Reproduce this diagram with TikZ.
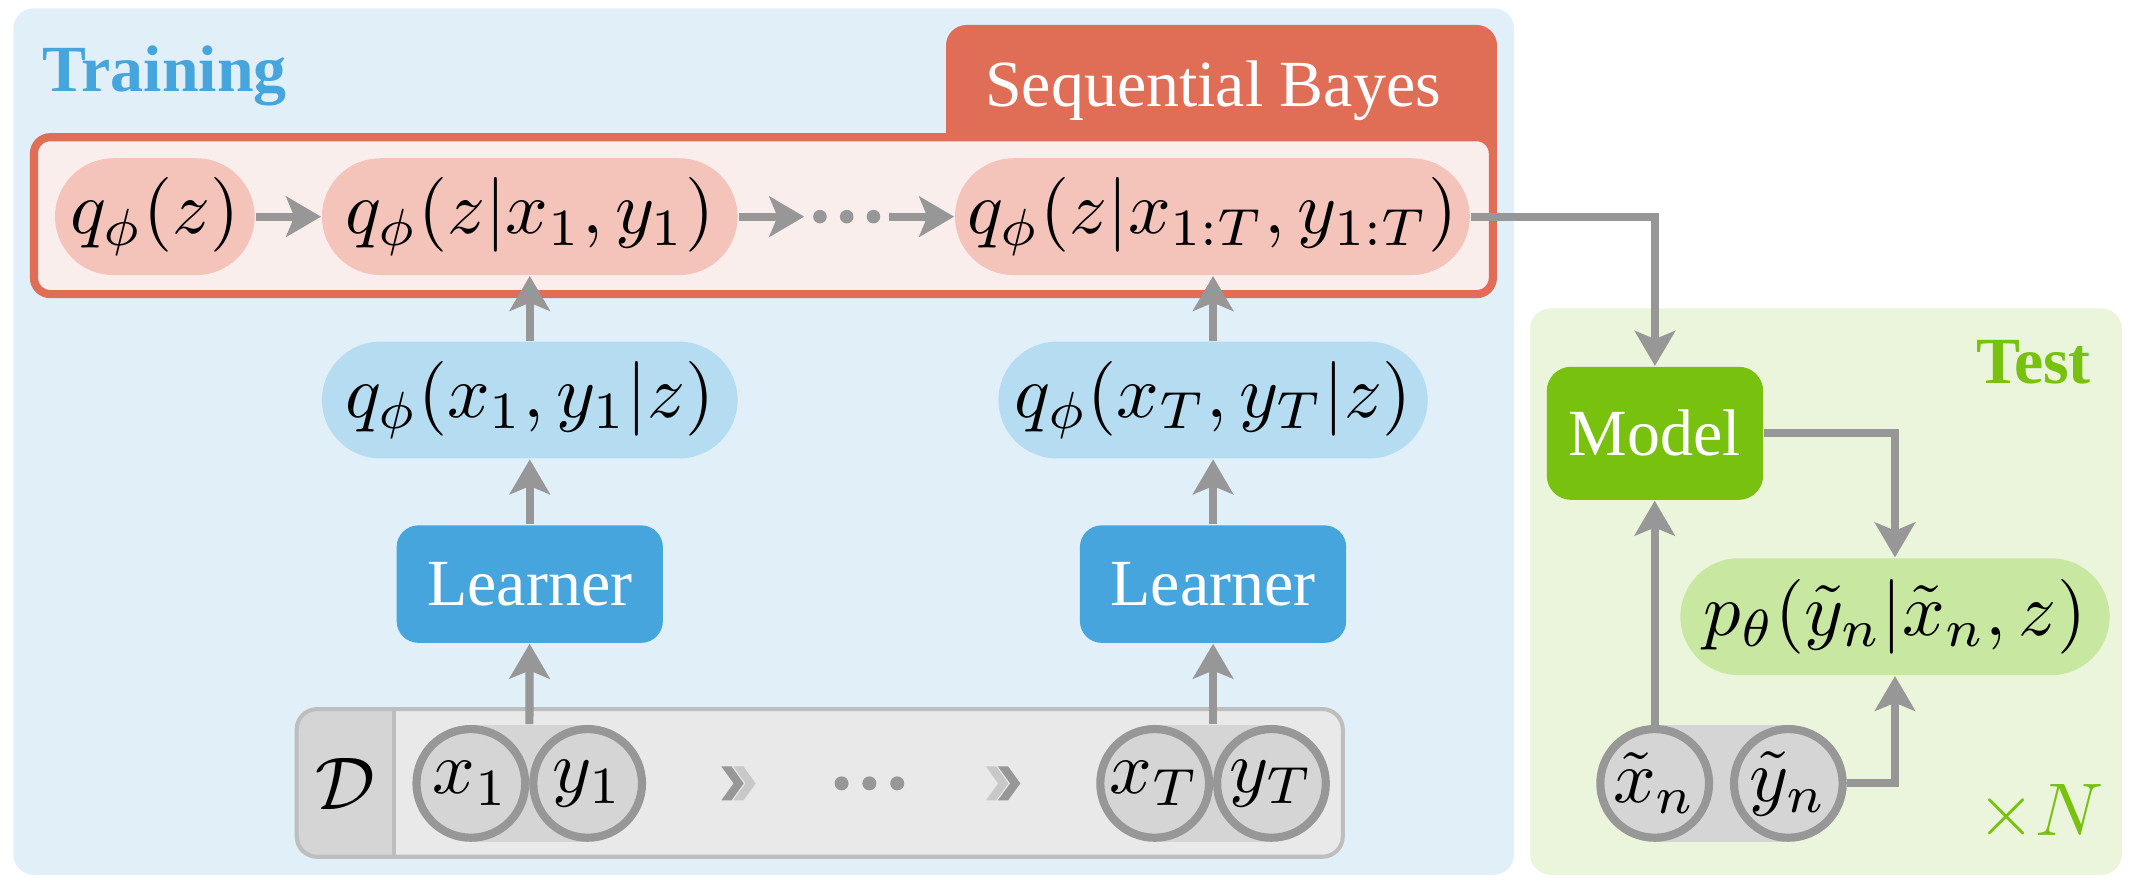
\RequirePackage{fix-cm}
\documentclass[tikz,border=0pt]{standalone}
\usepackage{graphicx}
\usepackage{fontspec}
\setmainfont{Liberation Serif}
\usetikzlibrary{arrows.meta}
\definecolor{trainbg}{HTML}{E1EFF9}
\definecolor{testbg}{HTML}{EBF5DC}
\definecolor{frfill}{HTML}{FAEEEC}
\definecolor{orng}{HTML}{E06D56}
\definecolor{pinkn}{HTML}{F4C4BA}
\definecolor{lbl}{HTML}{B6DCF1}
\definecolor{lrn}{HTML}{46A5DC}
\definecolor{mdl}{HTML}{78C10F}
\definecolor{pgrn}{HTML}{C8E7A1}
\definecolor{dfill}{HTML}{E9E9E9}
\definecolor{dborder}{HTML}{BEBEBE}
\definecolor{cfill}{HTML}{D5D5D5}
\definecolor{agray}{HTML}{979797}
\definecolor{chlight}{HTML}{C8C8C8}
\newcommand\tfsize{\fontsize{14.55}{17}\selectfont}
\newcommand\mth[1]{\scalebox{1.65}{\fontsize{10}{12}\selectfont$#1$}}
\begin{document}
\begin{tikzpicture}[x=0.3pt,y=-0.3pt,
  pill/.style={rectangle, rounded corners=12.9pt, minimum height=25.8pt, inner sep=0pt},
  boxn/.style={rectangle, rounded corners=4.8pt, inner sep=0pt, text=white, font=\tfsize},
  band/.style={rectangle, fill=cfill, minimum height=25.8pt, inner sep=0pt},
  circ/.style={circle, fill=cfill, draw=agray, line width=1.8pt, minimum size=24pt, inner sep=0pt},
  arr/.style={draw=agray, line width=1.8pt, -{Stealth[length=7.7pt,width=8.9pt,inset=1.8pt]}},
  chev/.pic={\fill[#1] (0,-12.5) -- (7.5,-12.5) -- (16.5,0) -- (7.5,12.5) -- (0,12.5) -- (9,0) -- cycle;}
]
\useasboundingbox (0,0) rectangle (1568,650.8);

% backgrounds
\fill[trainbg, rounded corners=4.5pt] (9.8,6.1) rectangle (1114.6,644);
\fill[testbg, rounded corners=4.5pt] (1126.4,227) rectangle (1562,644);

% Sequential Bayes tab and frame
\fill[orng, rounded corners=4.5pt] (696.4,130) rectangle (1102,18.4);
\draw[draw=orng, fill=frfill, line width=1.8pt, rounded corners=3.6pt] (25,101) rectangle (1099,216.5);

% labels
\node[anchor=base west, inner sep=0pt, font=\tfsize\bfseries, text=lrn] (trl) at (30.7,67.5) {Training};
\node[anchor=base west, inner sep=0pt, font=\tfsize\bfseries, text=mdl] (tsl) at (1454,282) {Test};
\node[anchor=base, inner sep=0pt, font=\tfsize, text=white] (sbl) at (893,78.5) {Sequential Bayes};
\node[anchor=base west, inner sep=0pt, text=mdl] (tmn) at (1455,614.7) {\mth{\times N}};

% dataset box
\fill[dfill, rounded corners=4.5pt] (218.4,522) rectangle (988.5,630.7);
\begin{scope}
  \clip[rounded corners=4.5pt] (218.4,522) rectangle (988.5,630.7);
  \fill[cfill] (218.4,522) rectangle (290,630.7);
\end{scope}
\draw[dborder, line width=0.9pt] (290,522) -- (290,630.7);
\draw[dborder, line width=0.9pt, rounded corners=4.5pt] (218.4,522) rectangle (988.5,630.7);
\node[inner sep=0pt] (dlab) at (254,577) {\mth{\mathcal{D}}};

% data circles
\node[band, minimum width=25.8pt] (b1) at (389.6,576.7) {};
\node[circ] (x1) at (346.6,576.7) {\mth{x_1}};
\node[circ] (y1) at (432.6,576.7) {\mth{y_1}};
\node[band, minimum width=25.8pt] (bT) at (893,576.7) {};
\node[circ] (xT) at (850,576.7) {\mth{x_T}};
\node[circ] (yT) at (936,576.7) {\mth{y_T}};

% chevrons and dots in dataset
\pic at (531,576.7) {chev=agray};
\pic at (539.8,576.7) {chev=chlight};
\pic at (725.8,576.7) {chev=chlight};
\pic at (734.6,576.7) {chev=agray};
\fill[agray] (619.5,576.7) circle[radius=1.55pt];
\fill[agray] (640,576.7) circle[radius=1.55pt];
\fill[agray] (660.5,576.7) circle[radius=1.55pt];

% test circles
\node[band, minimum width=29.52pt] (bt) at (1267.3,576.7) {};
\node[circ] (xn) at (1218.1,576.7) {\mth{\tilde{x}_n}};
\node[circ] (yn) at (1316.5,576.7) {\mth{\tilde{y}_n}};

% posterior nodes
\node[pill, fill=pinkn, minimum width=44.1pt] (qz) at (114,159.5) {\mth{q_\phi(z)}};
\node[pill, fill=pinkn, minimum width=91.8pt] (qz1) at (390,159.5) {\mth{q_\phi(z|x_1,y_1)}};
\node[pill, fill=pinkn, minimum width=113.7pt] (qzT) at (892.5,159.5) {\mth{q_\phi(z|x_{1:T},y_{1:T})}};
\node[inner sep=0pt, minimum width=18.3pt, minimum height=3pt] (tdots) at (623.2,159.5) {};
\fill[agray] (603.6,159.5) circle[radius=1.5pt];
\fill[agray] (623.3,159.5) circle[radius=1.5pt];
\fill[agray] (643,159.5) circle[radius=1.5pt];

\node[pill, fill=lbl, minimum width=91.8pt] (qx1) at (390,294.5) {\mth{q_\phi(x_1,y_1|z)}};
\node[pill, fill=lbl, minimum width=94.8pt] (qxT) at (893,294.5) {\mth{q_\phi(x_T,y_T|z)}};

\node[boxn, fill=lrn, minimum width=58.8pt, minimum height=25.95pt] (l1) at (390,430) {Learner};
\node[boxn, fill=lrn, minimum width=58.8pt, minimum height=25.95pt] (l2) at (893,430) {Learner};

\node[boxn, fill=mdl, rounded corners=5.4pt, minimum width=47.8pt, minimum height=29.4pt] (model) at (1218.3,319) {Model};
\node[pill, fill=pgrn, minimum width=94.8pt] (pt) at (1395,454) {\mth{p_\theta(\tilde{y}_n|\tilde{x}_n,z)}};

% connectors
\draw[arr] (qz) -- (qz1);
\draw[arr] (qz1) -- (tdots);
\draw[arr] (tdots) -- (qzT);
\draw[arr] (qx1) -- (qz1);
\draw[arr] (qxT.north) -- (qxT.north |- qzT.south);
\draw[arr] (l1) -- (qx1);
\draw[arr] (l2) -- (qxT);
\draw[arr] (b1) -- (l1);
\draw[arr] (bT) -- (l2);
\draw[arr] (qzT.east) -| (model.north);
\draw[arr] (model.east) -| (pt.north);
\draw[arr] (xn.north) -- (xn.north |- model.south);
\draw[arr] (yn.east) -| (pt.south);
\end{tikzpicture}
\end{document}
